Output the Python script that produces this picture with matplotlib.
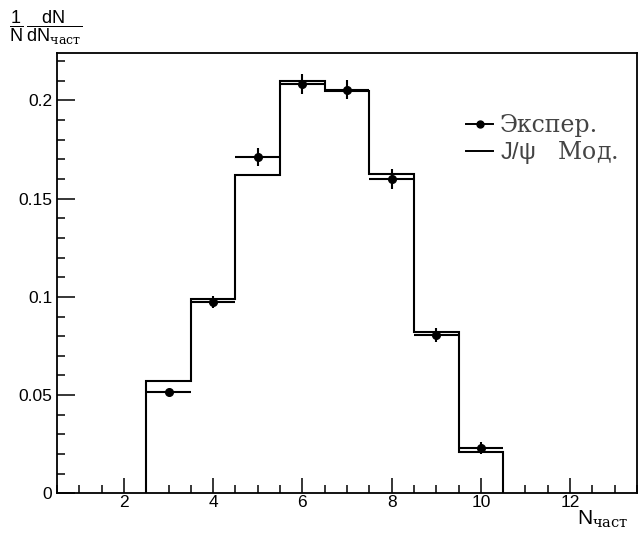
import numpy as np
import matplotlib
matplotlib.use("Agg")
import matplotlib.pyplot as plt
from matplotlib.lines import Line2D
from matplotlib.ticker import MultipleLocator, FuncFormatter

# bin centres of N_part and the two distributions
n_part = [3, 4, 5, 6, 7, 8, 9, 10]
exp_vals = [0.0517, 0.0972, 0.1712, 0.2083, 0.2055, 0.1600, 0.0805, 0.0232]
exp_errs = [0.0015, 0.0030, 0.0045, 0.0050, 0.0050, 0.0050, 0.0035, 0.0030]
mod_vals = [0.0571, 0.0987, 0.1619, 0.2099, 0.2046, 0.1628, 0.0822, 0.0212]

plt.rcParams["mathtext.fontset"] = "custom"
plt.rcParams["mathtext.rm"] = "Liberation Sans"
plt.rcParams["mathtext.it"] = "Liberation Sans"
plt.rcParams["mathtext.sf"] = "DejaVu Serif"

W, H = 641, 534
fig = plt.figure(figsize=(W / 100, H / 100), dpi=100)
ax = fig.add_axes([57 / W, 1 - 493.3 / H, 580 / W, 440 / H])

x = np.array(n_part, dtype=float)
edges = np.append(x - 0.5, x[-1] + 0.5)

ax.stairs(mod_vals, edges, baseline=0, fill=False, color="black", lw=1.5)
ax.errorbar(x, exp_vals, xerr=0.5, yerr=exp_errs, fmt="o", color="black",
            ms=5.5, elinewidth=1.5, capsize=0)

ax.set_xlim(0.5, 13.5)
ax.set_ylim(0, 0.224)

ax.xaxis.set_major_locator(MultipleLocator(2))
ax.xaxis.set_minor_locator(MultipleLocator(0.5))
ax.yaxis.set_major_locator(MultipleLocator(0.05))
ax.yaxis.set_minor_locator(MultipleLocator(0.01))
ax.yaxis.set_major_formatter(FuncFormatter(lambda v, _: f"{v:g}"))
ax.xaxis.set_major_formatter(FuncFormatter(lambda v, _: f"{v:g}"))

ax.tick_params(axis="x", which="major", direction="in", length=10.5, width=1.1,
               pad=1, labelsize=12.5)
ax.tick_params(axis="x", which="minor", direction="in", length=5.5, width=1.1)
ax.tick_params(axis="y", which="major", direction="in", length=13, width=1.1,
               pad=3.5, labelsize=12.5)
ax.tick_params(axis="y", which="minor", direction="in", length=6, width=1.1)
for lab in ax.get_xticklabels() + ax.get_yticklabels():
    lab.set_fontfamily("Liberation Sans")
for sp in ax.spines.values():
    sp.set_linewidth(1.3)

# axis titles, ROOT style
fig.text(9 / W, 1 - 28 / H, r"$\dfrac{1}{N}\,\dfrac{dN}{dN_{\mathsf{част}}}$",
         fontsize=13, va="center", ha="left")
fig.text(577 / W, 1 - 525 / H, r"$N_{\mathsf{част}}$", fontsize=15,
         va="baseline", ha="left", color="black")

# legend
handles = [Line2D([], [], color="black", marker="o", ms=5, lw=1.4),
           Line2D([], [], color="black", lw=1.4)]
leg = ax.legend(handles, ["Экспер.", r"$\mathrm{J/\psi}$   Мод."],
                loc="upper left",
                bbox_to_anchor=((466 - 57) / 580, (493.3 - 114) / 440),
                frameon=False, borderpad=0, borderaxespad=0,
                handlelength=1.15, handletextpad=0.28, labelspacing=0.08,
                prop={"family": "DejaVu Serif", "size": 17})
for t in leg.get_texts():
    t.set_color("#444444")

fig.savefig("out.png", dpi=100, facecolor="white")
